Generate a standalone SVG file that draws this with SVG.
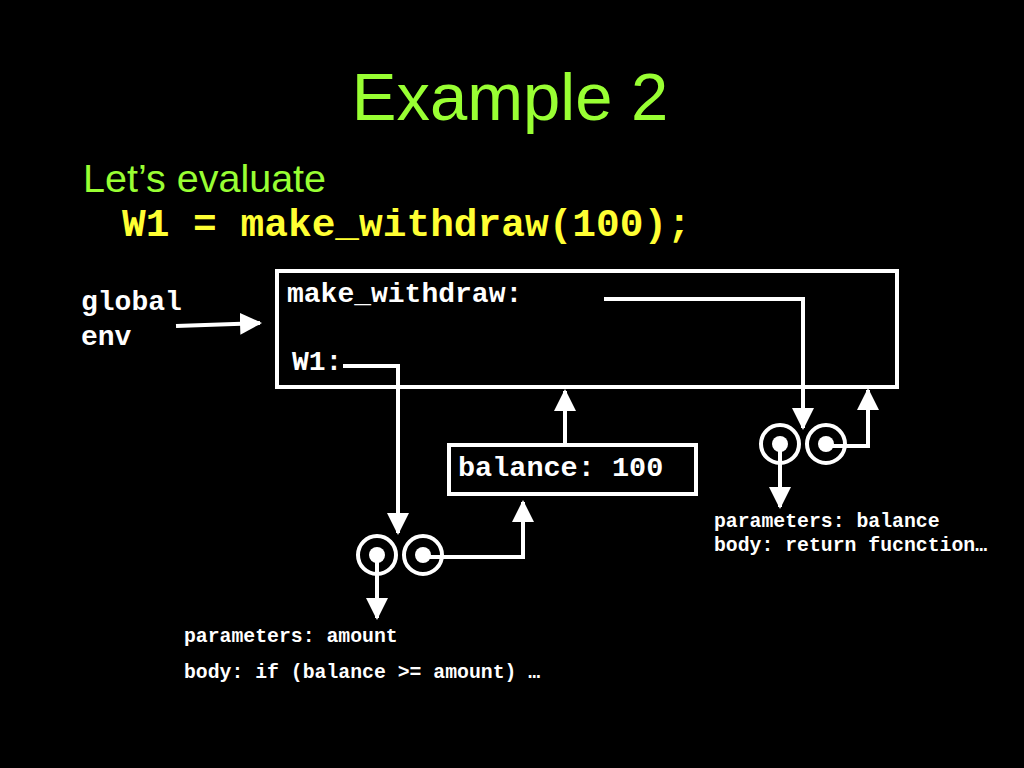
<svg xmlns="http://www.w3.org/2000/svg" width="1024" height="768" viewBox="0 0 1024 768">
<style>
.title{font-family:"Liberation Sans",Arial,sans-serif;fill:#99FF33}
.code{font-family:"Liberation Mono","Courier New",monospace;font-weight:bold;fill:#FFFFFF}
.box{fill:none;stroke:#FFFFFF;stroke-width:4}
.ln{fill:none;stroke:#FFFFFF;stroke-width:4}
.ring{fill:none;stroke:#FFFFFF;stroke-width:4}
.dot{fill:#FFFFFF}
</style>
<defs>
<marker id="ah" markerUnits="userSpaceOnUse" markerWidth="22" markerHeight="22" viewBox="0 0 22 22" refX="20" refY="11" orient="auto">
<path d="M0,0 L22,11 L0,22 Z" fill="#FFFFFF"/>
</marker>
</defs>
<rect width="1024" height="768" fill="#000000"/>
<text class="title" x="510" y="120" font-size="67" text-anchor="middle">Example 2</text>
<text class="title" x="83" y="192" font-size="39.5">Let’s evaluate</text>
<text class="code" x="122" y="236" font-size="39.5" style="fill:#FFFF33">W1 = make_withdraw(100);</text>

<g id="global-label">
<text class="code" x="81" y="310" font-size="28">global</text>
<text class="code" x="81" y="345" font-size="28">env</text>
</g>
<g id="global-frame">
<rect class="box" x="277" y="271" width="620" height="116"/>
<text class="code" x="287" y="302" font-size="28">make_withdraw:</text>
<text class="code" x="292" y="370" font-size="28">W1:</text>
</g>
<g id="balance-frame">
<rect class="box" x="449" y="445" width="247" height="49"/>
<text class="code" x="458" y="476" font-size="28.5">balance: 100</text>
</g>
<g id="proc-make-withdraw">
<circle class="ring" cx="780" cy="444" r="19"/>
<circle class="dot" cx="780" cy="444" r="8"/>
<circle class="ring" cx="826" cy="444" r="19"/>
<circle class="dot" cx="826" cy="444" r="8"/>
</g>
<g id="proc-w1">
<circle class="ring" cx="377" cy="555" r="19"/>
<circle class="dot" cx="377" cy="555" r="8"/>
<circle class="ring" cx="423" cy="555" r="19"/>
<circle class="dot" cx="423" cy="555" r="8"/>
</g>
<g id="code-make-withdraw">
<text class="code" x="714" y="527" font-size="19.8">parameters: balance</text>
<text class="code" x="714" y="551" font-size="19.8">body: return fucnction…</text>
</g>
<g id="code-w1">
<text class="code" x="184" y="642" font-size="19.8">parameters: amount</text>
<text class="code" x="184" y="678" font-size="19.8">body: if (balance &gt;= amount) …</text>
</g>
<g id="connectors">
<path class="ln" d="M176,326 L260,323" marker-end="url(#ah)"/>
<path class="ln" d="M604,299 L803,299 L803,428" marker-end="url(#ah)"/>
<path class="ln" d="M780,444 L780,507" marker-end="url(#ah)"/>
<path class="ln" d="M826,446 L868,446 L868,390" marker-end="url(#ah)"/>
<path class="ln" d="M343,366 L398,366 L398,533" marker-end="url(#ah)"/>
<path class="ln" d="M565,445 L565,391" marker-end="url(#ah)"/>
<path class="ln" d="M423,557 L523,557 L523,502" marker-end="url(#ah)"/>
<path class="ln" d="M377,555 L377,618" marker-end="url(#ah)"/>
</g>
</svg>
